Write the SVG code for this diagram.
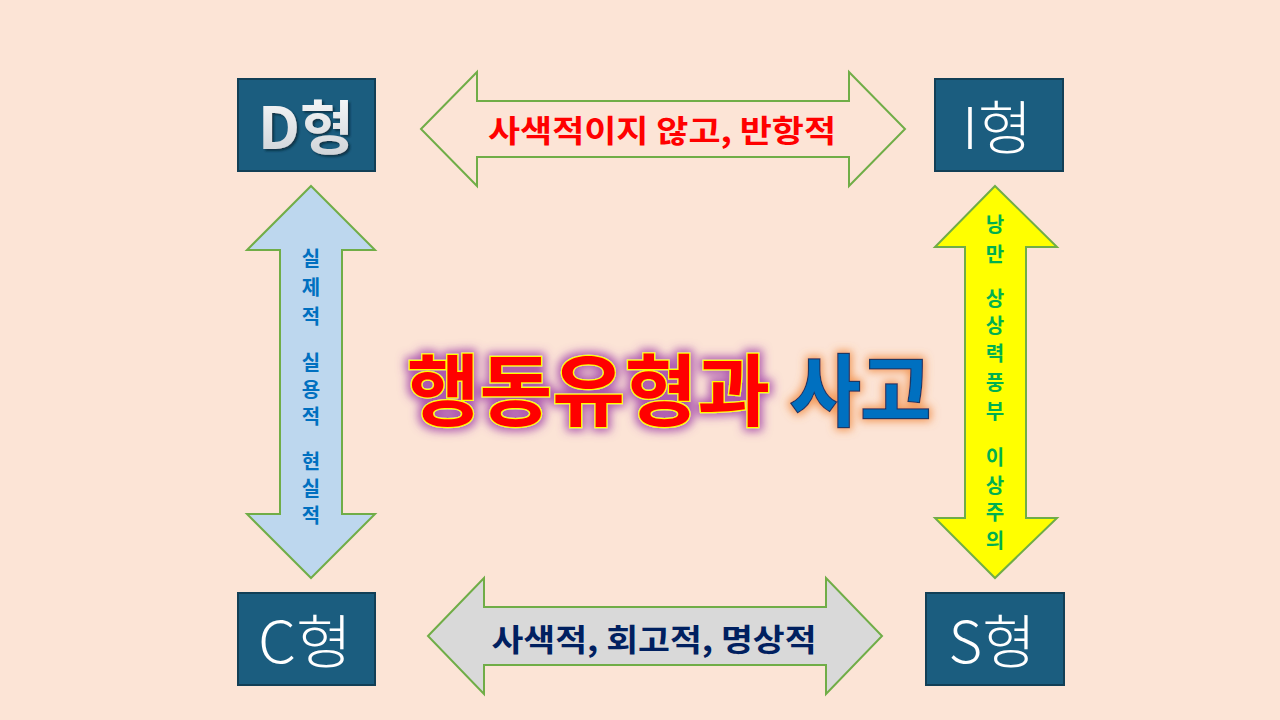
<svg xmlns="http://www.w3.org/2000/svg" width="1280" height="720" viewBox="0 0 1280 720">
<defs>
<style>
.box{fill:#1B5D7F;stroke:#123F56;stroke-width:2}
.boxt{font-family:"Noto Sans CJK KR","Noto Sans",sans-serif;font-size:58px;fill:#FFFFFF;font-weight:300;text-anchor:middle;dominant-baseline:central}
.arr{stroke:#70AD47;stroke-width:2;stroke-linejoin:miter}
.lbl{font-family:"Noto Sans CJK KR","Noto Sans",sans-serif;font-weight:bold;text-anchor:middle;dominant-baseline:central}
.vt{font-family:"Noto Sans CJK KR","Noto Sans",sans-serif;font-weight:bold;font-size:20px;text-anchor:middle;dominant-baseline:central}
.title{font-family:"Noto Sans CJK KR","Noto Sans",sans-serif;font-weight:bold;font-size:78px;dominant-baseline:central}
</style>
<linearGradient id="dgrad" x1="0" y1="0" x2="0" y2="1">
<stop offset="0" stop-color="#FFFFFF"/>
<stop offset="1" stop-color="#C9CED3"/>
</linearGradient>
<filter id="dshadow" x="-20%" y="-20%" width="140%" height="140%">
<feGaussianBlur in="SourceAlpha" stdDeviation="1.2"/>
<feOffset dx="1.5" dy="1.5" result="b"/>
<feFlood flood-color="#0B2A3A" flood-opacity="0.8"/>
<feComposite in2="b" operator="in" result="s"/>
<feMerge><feMergeNode in="s"/><feMergeNode in="SourceGraphic"/></feMerge>
</filter>
<filter id="glowP" x="-10%" y="-30%" width="120%" height="160%">
<feMorphology in="SourceAlpha" operator="dilate" radius="3" result="d"/>
<feGaussianBlur in="d" stdDeviation="5" result="b"/>
<feFlood flood-color="#A040A8" flood-opacity="0.85"/>
<feComposite in2="b" operator="in" result="g"/>
<feMerge><feMergeNode in="g"/><feMergeNode in="SourceGraphic"/></feMerge>
</filter>
<filter id="glowO" x="-20%" y="-30%" width="140%" height="160%">
<feMorphology in="SourceAlpha" operator="dilate" radius="2" result="d"/>
<feGaussianBlur in="d" stdDeviation="4" result="b"/>
<feFlood flood-color="#F08A40" flood-opacity="0.85"/>
<feComposite in2="b" operator="in" result="g"/>
<feMerge><feMergeNode in="g"/><feMergeNode in="SourceGraphic"/></feMerge>
</filter>
</defs>
<rect x="0" y="0" width="1280" height="720" fill="#FCE4D6"/>

<g id="connectors">
<g id="arrow-top">
<polygon class="arr" fill="#FCE4D6" points="421,129 477,72 477,101 849,101 849,72 905,129 849,186 849,157 477,157 477,186"/>
<text class="lbl" x="662" y="128" font-size="31" fill="#FF0000" textLength="348" lengthAdjust="spacingAndGlyphs">사색적이지 않고, 반항적</text>
</g>
<g id="arrow-bottom">
<polygon class="arr" fill="#D9D9D9" points="428,636 484,578 484,607 826,607 826,578 882,636 826,694 826,665 484,665 484,694"/>
<text class="lbl" x="654" y="637" font-size="31" fill="#002060" textLength="325" lengthAdjust="spacingAndGlyphs">사색적, 회고적, 명상적</text>
</g>
<g id="arrow-left">
<polygon class="arr" fill="#BDD7EE" points="311,186 375,250 342,250 342,514 375,514 311,578 247,514 280,514 280,250 247,250"/>
<g class="vt" fill="#0070C0">
<text x="311" y="257">실</text>
<text x="311" y="286">제</text>
<text x="311" y="315">적</text>
<text x="311" y="361">실</text>
<text x="311" y="388">용</text>
<text x="311" y="415">적</text>
<text x="311" y="460">현</text>
<text x="311" y="487">실</text>
<text x="311" y="514">적</text>
</g>
</g>
<g id="arrow-right">
<polygon class="arr" fill="#FFFF00" points="995,186 1057,247 1026,247 1026,518 1057,518 995,578 935,518 965,518 965,247 935,247"/>
<g class="vt" fill="#00B050">
<text x="995" y="223">낭</text>
<text x="995" y="253">만</text>
<text x="995" y="297">상</text>
<text x="995" y="324">상</text>
<text x="995" y="352">력</text>
<text x="995" y="381">풍</text>
<text x="995" y="410">부</text>
<text x="995" y="456">이</text>
<text x="995" y="484">상</text>
<text x="995" y="511">주</text>
<text x="995" y="539">의</text>
</g>
</g>
</g>

<g id="node-D">
<rect class="box" x="238" y="79" width="137" height="92"/>
<text class="boxt" x="306" y="124" filter="url(#dshadow)" style="font-weight:bold;fill:url(#dgrad)" textLength="96" lengthAdjust="spacingAndGlyphs">D형</text>
</g>
<g id="node-I">
<rect class="box" x="935" y="79" width="128" height="92"/>
<text class="boxt" x="997" y="124" textLength="70" lengthAdjust="spacingAndGlyphs">I형</text>
</g>
<g id="node-C">
<rect class="box" x="238" y="593" width="137" height="92"/>
<text class="boxt" x="305" y="638" textLength="94" lengthAdjust="spacingAndGlyphs">C형</text>
</g>
<g id="node-S">
<rect class="box" x="926" y="593" width="138" height="92"/>
<text class="boxt" x="992" y="638" textLength="87" lengthAdjust="spacingAndGlyphs">S형</text>
</g>

<g id="title">
<text class="title" x="407" y="386" fill="#FF0000" stroke="#FFFF00" stroke-width="2.5" paint-order="stroke" filter="url(#glowP)" textLength="363" lengthAdjust="spacingAndGlyphs">행동유형과</text>
<text class="title" x="790" y="386" fill="#0070C0" stroke="#1F3864" stroke-width="2.5" paint-order="stroke" filter="url(#glowO)" textLength="141" lengthAdjust="spacingAndGlyphs">사고</text>
</g>
</svg>
